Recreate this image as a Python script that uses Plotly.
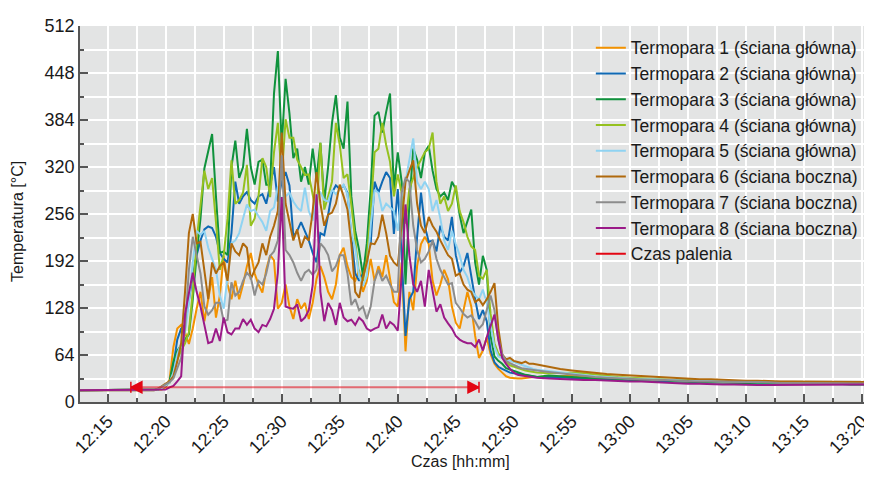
import pandas as pd
import plotly.graph_objects as go

DAY = "2021-01-01 "
# time axis: one early point, 20 s samples during the fire, 1-min samples in the tail
t_first = ["12:12:37"]
t_active = pd.date_range(DAY + "12:18:00", DAY + "12:52:00", freq="20s")
t_tail = list(pd.date_range(DAY + "12:53:00", DAY + "13:20:00", freq="60s")) + [pd.Timestamp(DAY + "13:20:52")]
times = [pd.Timestamp(DAY + t) for t in t_first] + list(t_active) + t_tail

base = [16]

t1_active = [16,16,16,16,16,17,20,30,75,100,
             105,95,79,100,127,150,110,140,170,115,
             145,199,160,140,165,140,160,185,203,175,
             160,149,180,200,193,127,135,160,130,113,
             140,127,135,113,135,168,185,170,150,140,
             160,200,210,185,170,165,180,150,165,195,
             165,185,170,200,170,136,130,190,69,150,
             125,185,215,225,215,165,145,160,180,167,
             130,108,100,125,150,130,90,60,70,88,
             65,52,45,40,35,33,32,32,32,33,
             33,34,34]
t2_active = [16,16,16,16,17,19,22,27,50,85,
             100,105,140,172,200,220,235,239,237,225,
             203,195,190,230,300,270,280,286,275,270,
             280,283,270,296,320,273,300,313,295,225,
             233,245,233,220,203,190,230,227,255,285,
             295,290,295,285,225,175,165,175,205,215,
             300,285,300,313,305,229,290,200,90,140,
             150,225,285,240,218,220,205,240,225,220,
             252,200,176,185,203,170,140,113,125,110,
             70,54,48,45,42,40,39,38,37,36,
             35,35,34]
t3_active = [16,16,16,16,17,20,23,28,55,70,
             78,85,92,140,200,250,318,340,365,280,
             203,205,200,320,356,305,320,372,320,296,
             327,330,296,296,420,478,349,440,393,332,
             345,300,320,296,345,305,353,273,320,380,
             418,360,345,409,280,233,207,172,216,290,
             390,395,367,395,420,290,340,300,160,270,
             345,330,305,340,349,315,290,280,285,275,
             300,290,255,230,245,262,190,160,199,180,
             90,62,56,52,46,44,42,40,38,37,
             36,35,34]
t4_active = [16,16,16,16,17,19,22,26,40,58,
             70,80,95,150,220,265,315,290,305,245,
             180,200,250,329,270,275,285,323,240,250,
             280,332,320,279,340,380,305,385,360,360,
             330,320,309,310,283,255,353,262,280,300,
             380,350,305,310,268,220,172,165,195,260,
             340,345,380,350,327,280,310,285,243,290,
             305,320,330,340,345,367,300,270,280,260,
             270,295,260,245,225,212,207,172,168,180,
             120,80,66,60,55,50,48,46,44,43,
             42,41,40]
t5_active = [16,16,16,16,17,19,22,26,40,65,
             80,95,135,190,233,228,233,210,195,180,
             145,127,170,216,220,230,250,269,260,262,
             253,245,233,260,265,293,273,280,285,273,
             265,260,292,260,247,280,285,275,273,289,
             283,290,296,283,230,210,172,158,172,240,
             289,285,260,270,265,260,233,280,300,327,
             359,300,290,300,290,260,275,250,220,207,
             233,215,200,180,170,153,145,140,153,135,
             105,75,62,60,58,56,54,52,50,48,
             46,45,44]
t6_active = [16,16,16,16,18,22,25,28,35,55,
             80,150,230,256,216,218,180,140,190,175,
             185,190,165,216,205,200,216,210,167,180,
             190,216,200,225,240,260,367,270,245,220,
             235,210,225,220,260,313,270,240,255,258,
             270,296,280,262,215,150,142,170,190,216,
             215,225,255,230,199,190,185,240,300,315,
             329,270,240,230,252,240,232,220,210,200,
             195,172,175,160,153,150,136,140,132,140,
             150,162,100,65,58,60,56,54,53,55,
             52,52,51]
t7_active = [16,16,16,16,18,21,24,27,32,45,
             60,100,180,225,200,175,130,119,125,135,
             135,110,112,163,145,150,165,176,170,145,
             165,160,175,199,205,220,336,207,200,190,
             176,165,176,180,173,180,216,210,200,178,
             185,200,200,175,132,140,125,130,113,130,
             165,180,165,172,160,150,150,285,305,300,
             240,207,190,195,205,220,195,180,170,160,
             162,135,128,120,115,118,110,100,106,125,
             145,125,85,65,56,53,50,48,46,45,
             44,44,43]
t8_active = [16,16,16,16,16,16,17,20,22,28,
             35,120,150,176,150,130,105,80,82,100,
             83,115,95,92,100,100,113,105,112,100,
             95,105,103,113,127,176,279,130,128,127,
             133,110,115,125,159,283,150,110,135,125,
             105,135,115,110,112,105,115,110,100,97,
             100,102,119,100,109,105,97,172,269,200,
             160,150,165,130,180,150,123,133,115,107,
             100,90,85,82,80,80,75,85,70,88,
             105,119,85,60,52,45,40,37,36,35,
             34,34,33]

t1_tail = [34,35,36,34,33,32,31,30,29,30,29,28,28,27,27,27,26,26,26,26,25,25,25,25,25,25,25,25,25]
t2_tail = [34,33,33,32,31,31,30,30,29,29,28,28,28,27,27,27,26,26,26,26,25,25,25,25,25,24,24,24,24]
t3_tail = [36,35,34,33,32,32,31,30,30,29,30,28,28,27,27,27,26,26,26,26,25,25,25,25,25,25,24,24,24]
t4_tail = [39,40,40,39,37,35,34,33,32,31,31,30,30,29,29,28,28,28,27,27,27,27,26,26,26,26,26,26,26]
t5_tail = [42,40,38,36,35,34,33,32,31,31,30,30,29,29,28,28,28,27,27,27,27,26,26,26,26,26,25,25,25]
t6_tail = [47,45,43,41,39,38,37,36,35,35,34,33,32,31,31,30,29,29,29,28,28,28,28,27,27,27,27,27,27]
t7_tail = [41,39,37,35,34,33,32,31,31,30,30,29,29,28,28,28,27,27,27,27,26,26,26,26,26,26,25,25,25]
t8_tail = [32,31,31,30,30,29,29,28,28,27,26,26,25,25,24,24,24,23,23,23,23,23,23,23,23,24,24,24,24]

names = ["Termopara 1 (ściana główna)", "Termopara 2 (ściana główna)",
         "Termopara 3 (ściana główna)", "Termopara 4 (ściana główna)",
         "Termopara 5 (ściana główna)", "Termopara 6 (ściana boczna)",
         "Termopara 7 (ściana boczna)", "Termopara 8 (ściana boczna)"]
colors = ["#f39200", "#0f69b4", "#0f923c", "#95c11f",
          "#8fd3f2", "#b0690c", "#8c8c8c", "#9b1a88"]
series = [
    base + t1_active + t1_tail, base + t2_active + t2_tail,
    base + t3_active + t3_tail, base + t4_active + t4_tail,
    base + t5_active + t5_tail, base + t6_active + t6_tail,
    base + t7_active + t7_tail, base + t8_active + t8_tail,
]

burn_start = DAY + "12:17:00"
burn_end = DAY + "12:47:00"
burn_level = 20
burn_label = "Czas palenia"
x_title = "Czas [hh:mm]"
y_title = "Temperatura [°C]"

FONT = "Liberation Sans, Arial, sans-serif"

fig = go.Figure()
for nm, col, ys in zip(names, colors, series):
    assert len(ys) == len(times), (nm, len(ys), len(times))
    fig.add_trace(go.Scatter(x=times, y=ys, mode="lines", name=nm,
                             line=dict(color=col, width=2)))

fig.add_trace(go.Scatter(x=[burn_start, burn_end], y=[burn_level, burn_level],
                         mode="lines+markers", name=burn_label, showlegend=False,
                         line=dict(color="rgba(227,6,19,0.55)", width=2),
                         marker=dict(symbol=["arrow-bar-left", "arrow-bar-right"],
                                     size=11, color="#e30613",
                                     line=dict(color="#e30613", width=1.5))))
fig.add_trace(go.Scatter(x=[None], y=[None], mode="lines", name=burn_label,
                         line=dict(color="#e30613", width=2)))

axis_common = dict(showline=True, linecolor="#555555", linewidth=1.5,
                   ticks="inside", ticklen=8, tickcolor="#555555", tickwidth=1.5,
                   gridcolor="white", gridwidth=1.5, zeroline=False,
                   tickfont=dict(family=FONT, size=18, color="#1a1a1a"))

fig.update_layout(
    width=872, height=482,
    margin=dict(l=72, r=8, t=10, b=88),
    paper_bgcolor="white", plot_bgcolor="#e3e4e4",
    font=dict(family=FONT, size=18, color="#1a1a1a"),
    showlegend=True,
    legend=dict(x=0.645, y=0.99, xanchor="left", yanchor="top",
                bgcolor="rgba(0,0,0,0)", font=dict(family=FONT, size=17.5)),
    xaxis=dict(axis_common, type="date",
               range=[DAY + "12:12:37", DAY + "13:20:52"],
               tick0=DAY + "12:15:00", dtick=300000, tickformat="%H:%M",
               tickangle=-45,
               minor=dict(dtick=150000, ticks="inside", ticklen=4, tickcolor="#555555",
                          showgrid=True, gridcolor="white", gridwidth=1.5)),
    yaxis=dict(axis_common, range=[0, 512], tick0=0, dtick=64,
               minor=dict(dtick=32, ticks="inside", ticklen=4, tickcolor="#555555",
                          showgrid=True, gridcolor="white", gridwidth=1.5)),
    annotations=[
        dict(text=x_title, xref="paper", yref="paper", x=0.48, y=-0.158,
             xanchor="center", yanchor="middle", showarrow=False,
             font=dict(family=FONT, size=16, color="#1a1a1a")),
        dict(text=y_title, xref="paper", yref="paper", x=-0.079, y=0.48,
             xanchor="center", yanchor="middle", showarrow=False, textangle=-90,
             font=dict(family=FONT, size=16, color="#1a1a1a")),
    ],
)

fig.write_html("out.html")
